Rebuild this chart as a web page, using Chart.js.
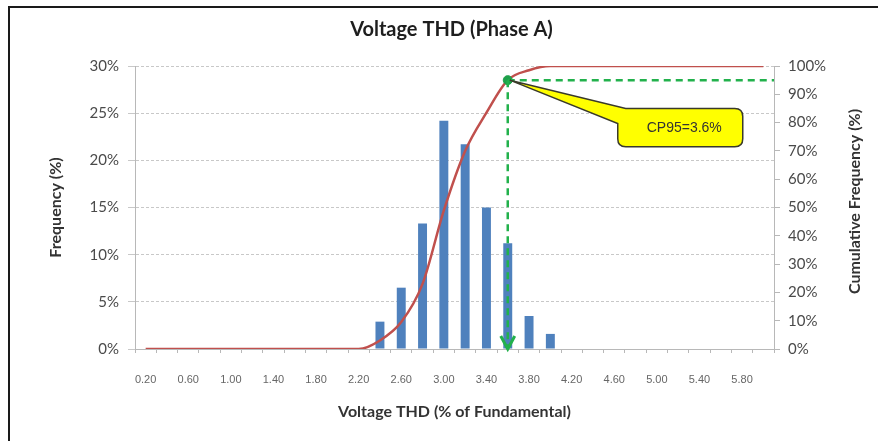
<!DOCTYPE html>
<html>
<head>
<meta charset="utf-8">
<script src="https://cdn.jsdelivr.net/npm/chart.js@4"></script>
<style>
  html, body { margin: 0; padding: 0; background: #fff; }
  #wrap { position: relative; width: 878px; height: 441px; }
</style>
</head>
<body>
<div id="wrap"><canvas id="myChart" width="878" height="441"></canvas></div>
<script>
// THD bins (% of fundamental), 0.2 step
const categories = ['0.20','0.40','0.60','0.80','1.00','1.20','1.40','1.60','1.80','2.00',
  '2.20','2.40','2.60','2.80','3.00','3.20','3.40','3.60','3.80','4.00',
  '4.20','4.40','4.60','4.80','5.00','5.20','5.40','5.60','5.80','6.00']

// frequency per bin (%)
const frequency = [0,0,0,0,0,0,0,0,0,0,
  0,2.9,6.5,13.3,24.2,21.7,15.0,11.2,3.5,1.6,
  0,0,0,0,0,0,0,0,0,0]

// cumulative frequency (%)
const cumulative = [0,0,0,0,0,0,0,0,0,0,
  0,3,9.5,23,49,70,83.5,95,98.5,100,
  100,100,100,100,100,100,100,100,100,100]

const cp95Label = '3.60'
const cp95Value = 95
const cp95Text = 'CP95=3.6%'
const chartTitle = 'Voltage THD (Phase A)'
const rightTitle = 'Cumulative Frequency (%)'

const cp95Point = categories.map((c) => c === cp95Label ? cp95Value : null)

const gridGray = '#c8c8c8'
const axisGray = '#b8b8b8'
const titleFont = { family: 'Lato', size: 16, weight: 'bold' }

const cpPlugin = {
  id: 'cp95',
  beforeDraw(chart) {
    const ctx = chart.ctx
    ctx.save()
    ctx.strokeStyle = '#1a1a1a'
    ctx.lineWidth = 2
    ctx.beginPath()
    ctx.moveTo(9, 441)
    ctx.lineTo(9, 7)
    ctx.lineTo(878, 7)
    ctx.stroke()
    ctx.restore()
  },
  afterDraw(chart) {
    const ctx = chart.ctx
    const area = chart.chartArea
    ctx.save()
    ctx.fillStyle = '#1e1e1e'
    ctx.font = 'bold 20px Lato'
    ctx.textAlign = 'center'
    ctx.textBaseline = 'middle'
    ctx.fillText(chartTitle, (area.left + area.right) / 2 - 3, 30)
    // right axis title reads bottom-to-top like the left one
    ctx.translate(855, (area.top + area.bottom) / 2 - 6)
    ctx.rotate(-Math.PI / 2)
    ctx.fillStyle = '#333'
    ctx.font = 'bold 16px Lato'
    ctx.fillText(rightTitle, 0, 0)
    ctx.restore()
  },
  afterDatasetsDraw(chart) {
    const ctx = chart.ctx
    const xs = chart.scales.x
    const y1 = chart.scales.y1
    const area = chart.chartArea
    const px = xs.getPixelForValue(categories.indexOf(cp95Label))
    const py = y1.getPixelForValue(cp95Value)
    const green = '#22b14c'

    ctx.save()
    ctx.strokeStyle = green
    ctx.lineWidth = 2.5
    ctx.setLineDash([7, 5])
    ctx.beginPath()
    ctx.moveTo(px, py)
    ctx.lineTo(area.right, py)
    ctx.moveTo(px, py)
    ctx.lineTo(px, area.bottom - 2)
    ctx.stroke()
    // arrow head
    ctx.setLineDash([])
    ctx.lineWidth = 3
    ctx.beginPath()
    ctx.moveTo(px - 7, area.bottom - 13)
    ctx.lineTo(px, area.bottom)
    ctx.lineTo(px + 7, area.bottom - 13)
    ctx.stroke()

    // callout
    const L = px + 110, R = L + 125
    const T = y1.getPixelForValue(85), B = y1.getPixelForValue(71.5)
    const r = 8
    ctx.beginPath()
    ctx.moveTo(px + 2, py)
    ctx.lineTo(L + 8, T)
    ctx.lineTo(R - r, T)
    ctx.quadraticCurveTo(R, T, R, T + r)
    ctx.lineTo(R, B - r)
    ctx.quadraticCurveTo(R, B, R - r, B)
    ctx.lineTo(L + r, B)
    ctx.quadraticCurveTo(L, B, L, B - r)
    ctx.lineTo(L, T + 15)
    ctx.closePath()
    ctx.fillStyle = '#ffff00'
    ctx.fill()
    ctx.strokeStyle = '#3a3a2a'
    ctx.lineWidth = 1.5
    ctx.stroke()
    ctx.fillStyle = '#333'
    ctx.font = '14px "Liberation Sans", Arial, sans-serif'
    ctx.textAlign = 'center'
    ctx.textBaseline = 'middle'
    ctx.fillText(cp95Text, (L + R) / 2 + 4, (T + B) / 2 + 1)
    ctx.restore()
  }
}

const ctx = document.getElementById('myChart').getContext('2d')
const myChart = new Chart(ctx, {
  type: 'bar',
  data: {
    labels: categories,
    datasets: [{
      type: 'line',
      label: 'CP95',
      data: cp95Point,
      yAxisID: 'y1',
      showLine: false,
      pointRadius: 4.5,
      pointBackgroundColor: '#1ea04a',
      pointBorderColor: '#1ea04a',
      order: 0
    }, {
      type: 'line',
      label: 'Cumulative Frequency',
      data: cumulative,
      yAxisID: 'y1',
      borderColor: '#c0504d',
      borderWidth: 2.5,
      pointRadius: 0,
      fill: false,
      cubicInterpolationMode: 'monotone',
      order: 1
    }, {
      label: 'Frequency',
      data: frequency,
      yAxisID: 'y',
      backgroundColor: '#4f81bd',
      barPercentage: 0.42,
      categoryPercentage: 1,
      order: 2
    }]
  },
  options: {
    responsive: false,
    animation: false,
    layout: { padding: { left: 0, right: 0, top: 66, bottom: 0 } },
    plugins: {
      legend: { display: false },
      tooltip: { enabled: false },
      title: { display: false }
    },
    scales: {
      x: {
        grid: { display: true, drawOnChartArea: false, drawTicks: true, tickLength: 4, color: axisGray, offset: true },
        border: { display: true, color: axisGray },
        ticks: {
          autoSkip: false,
          maxRotation: 0,
          padding: 20,
          color: '#666',
          font: { family: '"Liberation Sans", Arial', size: 11 },
          callback: (v, i) => i % 2 === 0 ? categories[i] : ''
        },
        title: {
          display: true,
          text: 'Voltage THD (% of Fundamental)',
          color: '#333',
          font: titleFont,
          padding: { bottom: 20 }
        },
        afterFit: (s) => { s.height = 92 }
      },
      y: {
        position: 'left',
        min: 0,
        max: 30,
        grid: { color: gridGray, tickLength: 7 },
        border: { display: true, color: axisGray, dash: [3, 2] },
        ticks: {
          stepSize: 5,
          padding: 9,
          color: '#4a4a4a',
          font: { family: 'Lato', size: 15 },
          callback: (v) => v + '%'
        },
        title: {
          display: true,
          text: 'Frequency (%)',
          color: '#333',
          font: titleFont,
          padding: { top: 46 }
        },
        afterFit: (s) => { s.width = 135 }
      },
      y1: {
        position: 'right',
        min: 0,
        max: 100,
        grid: { drawOnChartArea: false, tickLength: 6, color: axisGray },
        border: { display: true, color: axisGray },
        ticks: {
          stepSize: 10,
          padding: 8,
          color: '#4a4a4a',
          font: { family: 'Lato', size: 15 },
          callback: (v) => v + '%'
        },
        title: { display: false },
        afterFit: (s) => { s.width = 104 }
      }
    }
  },
  plugins: [cpPlugin]
})
</script>
</body>
</html>
